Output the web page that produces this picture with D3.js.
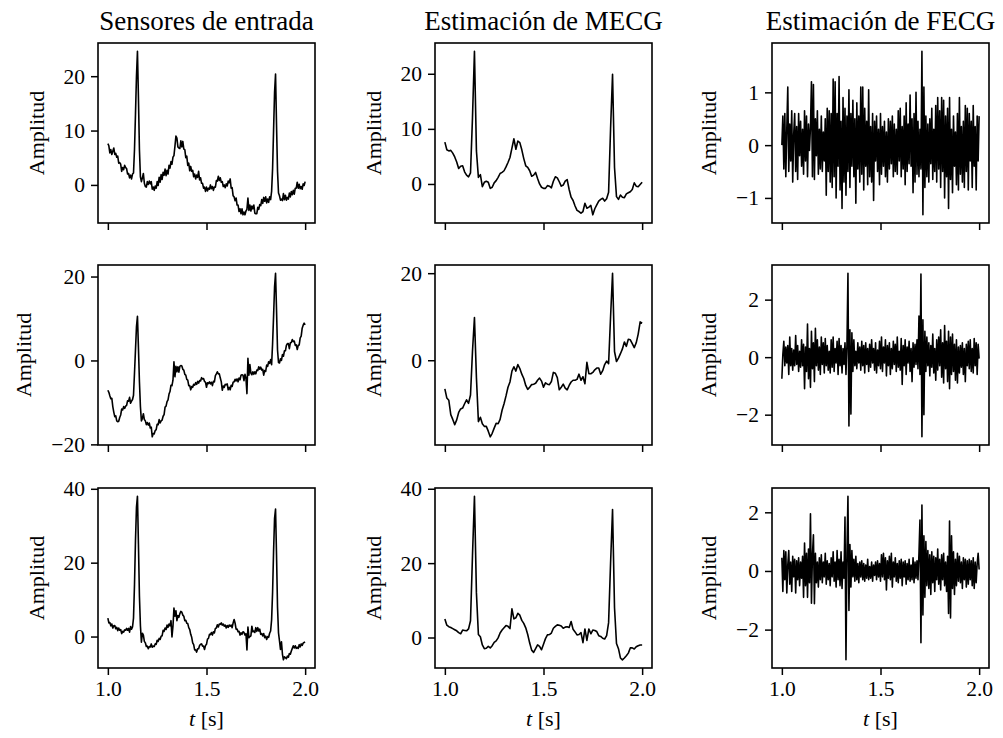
<!DOCTYPE html>
<html>
<head>
<meta charset="utf-8">
<script src="https://cdn.jsdelivr.net/npm/d3@7"></script>
<style>
  body { margin: 0; background: #fff; }
  text { font-family: "Liberation Serif", "DejaVu Serif", serif; fill: #000; }
</style>
</head>
<body>
<div class="container"></div>
<script>
var width = 1003;
var height = 738;

// panel layout (pixels)
var colLeft = [98, 435, 772];
var rowTop = [43, 265, 488];
var plotW = 217;
var plotH = 180;

var colTitles = ["Sensores de entrada", "Estimación de MECG", "Estimación de FECG"];
var xTicks = [1.0, 1.5, 2.0];

// sampling: inputs and FECG every 5 ms, MECG every 10 ms, starting at t = 1.0 s
var fineStep = 0.005;
var coarseStep = 0.01;

// ---- row 1 ----
var input1 = [7.6,7.2,5.9,6.5,5.6,6.2,6.8,5.6,5.8,5.1,
  5.3,4.0,4.1,3.8,2.5,3.2,2.8,3.6,3.2,3.0,
  2.0,2.1,1.3,1.8,1.1,2.0,2.2,6.5,13,20,
  24.6,16,6.5,1.5,0.6,1.3,2.1,0.3,-0.3,-0.4,
  0.6,0.1,0.7,0.2,0.6,-0.8,-0.4,-1.0,-0.2,-0.6,
  0.6,-0.1,1.4,0.5,1.9,1.0,2.3,1.8,2.9,1.7,
  2.7,2.0,3.6,3.1,4.3,3.8,5.1,5.4,7.1,9.0,
  8.6,7.0,6.8,6.7,8.1,7.0,8.0,6.6,6.5,5.0,
  5.3,3.6,4.0,2.6,3.4,2.5,2.7,1.5,2.0,1.1,
  1.8,1.4,2.5,0.9,1.3,0.3,0.3,-0.6,-0.4,-1.2,
  -0.4,-1.1,-0.6,-0.8,0.0,-0.7,-0.3,-1.0,-0.4,-0.4,
  0.8,0.7,1.6,0.8,1.3,0.5,0.6,-0.3,0.0,-0.5,
  0.2,-0.2,0.7,0.4,1.1,-0.6,-0.5,-2.0,-2.2,-2.9,
  -2.4,-3.7,-3.7,-4.9,-4.4,-5.3,-4.4,-5.5,-5.0,-5.5,
  -4.8,-4.5,-2.4,-4.7,-3.7,-4.8,-3.9,-4.4,-3.7,-5.2,
  -5.3,-5.3,-4.1,-4.5,-3.6,-3.8,-2.7,-3.4,-2.3,-3.0,
  -2.2,-3.3,-2.6,-3.2,-2.2,-2.7,-1.2,3,10,17,
  20.4,11,2.5,-1.5,-2.0,-2.8,-2.6,-2.9,-1.6,-2.7,
  -1.9,-2.8,-2.3,-2.6,-1.5,-2.2,-1.2,-1.8,-1.0,-1.7,
  -0.6,-0.6,0.5,-0.6,0.1,-0.7,-0.3,-0.8,0.2,-0.1,
  0.6];
var mecg1 = [7.6,6.2,6.0,6.1,5.6,4.9,4.0,2.8,3.2,3.3,
  2.2,1.6,1.3,2.0,12.0,24.1,6.0,1.2,1.7,-0.5,
  0.3,0.5,0.3,-0.8,-0.6,0.2,0.6,1.2,1.9,2.1,
  2.4,3.1,3.9,4.8,6.5,8.2,6.3,7.8,7.5,6.2,
  4.6,3.3,3.0,2.4,1.4,1.6,2.1,1.0,0.0,-0.6,
  -0.8,-0.8,-0.3,-0.4,-0.7,0.5,1.3,1.1,0.4,-0.4,
  -0.2,0.5,0.8,-1.0,-2.4,-3.0,-4.0,-4.8,-5.0,-5.3,
  -5.0,-3.5,-4.4,-4.2,-3.9,-5.6,-4.5,-3.8,-3.1,-2.8,
  -2.6,-3.1,-2.7,-1.5,10.0,19.9,3.0,-2.3,-2.8,-2.0,
  -2.4,-2.5,-1.8,-1.6,-1.4,-1.0,0.2,-0.4,-0.5,-0.1,
  0.3];
var fecg1 = [0.0,0.55,-0.45,0.6,-0.6,0.3,1.1,-0.5,0.4,-0.3,
  0.65,-0.7,0.2,0.6,-0.5,0.35,-0.65,0.6,-0.2,0.45,
  -0.4,0.3,-0.55,0.65,-0.3,0.55,-0.6,0.4,-0.1,0.35,
  1.2,-0.6,1.15,-0.65,0.5,-0.2,0.65,-0.55,0.3,-0.45,
  0.55,-0.5,0.25,-0.3,0.5,-0.95,0.7,-0.5,0.65,-0.7,
  0.6,-0.8,1.25,-0.6,1.2,-1.0,0.6,-0.4,1.3,-0.85,
  0.45,-1.2,0.9,-0.7,0.7,-0.95,0.55,-0.5,1.05,-0.8,
  0.6,-0.4,0.85,-0.6,0.5,-1.1,0.8,-0.45,0.55,-0.7,
  1.1,-0.55,1.1,-0.85,0.7,-0.4,0.45,-0.75,1.05,-0.6,
  0.35,-0.7,0.6,-1.05,0.45,-0.3,0.55,-0.5,0.3,-0.75,
  0.6,-0.55,0.35,-0.4,0.45,-0.6,0.25,-0.7,0.5,-0.45,
  0.45,-0.35,0.55,-0.6,0.4,-0.5,0.3,-0.55,0.65,-0.3,
  0.7,-0.6,0.35,-0.45,0.55,-0.75,0.8,-0.5,0.4,-0.35,
  0.95,-0.4,0.5,-0.9,0.6,-0.7,1.0,-0.55,0.45,-0.6,
  0.3,-0.45,1.78,-1.32,1.1,-0.8,0.55,-0.6,0.4,-0.7,
  0.5,-0.35,0.7,-0.65,0.3,-0.5,0.75,-0.7,0.9,-0.45,
  0.65,-0.8,0.9,-0.5,0.85,-1.0,0.55,-0.6,0.7,-1.2,
  0.9,-0.65,0.3,-0.9,0.55,-0.4,0.25,-0.75,0.6,-0.85,
  0.9,-0.55,0.35,-0.7,0.45,-0.8,0.75,-0.5,0.7,-0.85,
  0.6,-0.3,0.45,-0.8,0.75,-0.4,0.35,-0.85,0.55,-0.3,
  0.55];

// ---- row 2 ----
var input2 = [-7.1,-7.6,-8.4,-9.1,-9.0,-11.0,-12.3,-13.4,-13.2,-14.4,
  -14.6,-14.5,-13.6,-13.0,-11.6,-11.8,-11.0,-11.4,-10.9,-10.7,
  -9.6,-9.7,-8.8,-10.2,-9.7,-9.3,-8.3,-3,2.5,8,
  10.5,3,-5,-11,-14.4,-13.8,-12.7,-14.1,-14.4,-15.3,
  -14.8,-15.4,-14.9,-16.1,-15.9,-18.2,-17.4,-17.5,-16.7,-16.5,
  -15.2,-15.3,-14.1,-14.9,-14.4,-14.2,-13.3,-12.9,-11.1,-10.9,
  -9.8,-9.4,-8.0,-7.4,-5.9,-6.0,-4.7,-0.3,-3.9,-1.4,
  -2.7,-1.5,-2.8,-1.4,-1.2,-1.3,-2.1,-2.3,-3.3,-3.5,
  -4.5,-4.7,-6.0,-6.0,-7.0,-6.2,-6.4,-5.7,-5.9,-5.3,
  -5.7,-5.0,-5.4,-4.8,-4.9,-4.1,-4.4,-4.3,-5.0,-5.2,
  -6.4,-5.3,-5.5,-5.1,-5.6,-5.2,-6.0,-5.0,-5.1,-3.6,
  -3.2,-2.7,-3.2,-3.2,-4.2,-5.1,-7.1,-6.1,-6.4,-5.7,
  -5.8,-5.6,-7.0,-6.4,-7.0,-5.9,-6.2,-5.2,-5.1,-4.5,
  -4.9,-4.4,-5.1,-4.2,-4.6,-3.5,-3.4,-3.5,-4.8,-3.3,
  -4.2,-7.9,0.5,-3.5,-1.0,-3.0,-3.4,-2.7,-3.3,-2.7,
  -3.2,-2.3,-2.4,-1.5,-2.1,-1.6,-2.3,-2.1,-3.5,-2.4,
  -2.6,-1.1,-1.4,-0.3,-0.7,0.2,-1.0,4,10.5,17.5,
  20.8,12,2.5,-0.5,-0.6,0.4,0.0,1.4,1.0,2.3,
  2.3,3.6,4.0,4.0,2.8,4.2,4.3,5.0,4.5,4.6,
  3.6,3.7,2.6,3.6,3.7,5.4,5.8,7.7,8.4,8.9,
  8.5];
var mecg2 = [-6.6,-8.7,-9.2,-12.5,-13.6,-14.8,-13.7,-12.0,-11.2,-11.0,
  -10.0,-9.1,-9.9,-8.0,2.0,9.8,-4.0,-14.1,-13.1,-14.6,
  -15.2,-15.2,-16.3,-17.6,-16.8,-15.6,-14.5,-14.6,-13.6,-11.5,
  -10.0,-8.2,-6.2,-5.0,-2.5,-1.5,-2.5,-1.0,-1.9,-3.2,
  -4.2,-5.8,-6.7,-6.2,-5.6,-5.5,-5.3,-4.6,-4.1,-4.8,
  -6.2,-5.2,-5.5,-5.6,-4.9,-2.8,-3.0,-4.0,-6.8,-6.2,
  -5.5,-6.4,-6.8,-5.8,-5.0,-4.6,-4.6,-4.4,-3.2,-4.6,
  -3.8,-5.4,-0.5,-3.1,-3.1,-2.8,-2.2,-1.8,-1.8,-3.2,
  -2.4,-1.0,-0.2,-0.8,10.0,20.0,2.0,-0.3,0.5,1.5,
  2.6,4.2,3.2,4.8,4.7,3.8,2.9,4.0,6.0,8.8,
  8.5];
var fecg2 = [-0.75,0.1,0.55,-0.3,0.35,-0.2,0.4,-0.6,0.7,-0.3,
  0.3,-0.45,0.25,-0.3,0.75,-0.25,0.4,-0.5,0.2,-0.35,
  0.6,-0.3,0.45,-1.1,0.35,-0.5,1.15,-0.75,0.3,-1.05,
  0.9,-0.4,0.5,-0.85,1.0,-0.3,0.6,-0.45,0.35,-0.6,
  0.7,-0.25,0.5,-0.55,0.65,-0.3,0.4,-0.45,0.2,-0.55,
  0.6,-0.35,0.7,-0.5,0.3,-0.2,0.55,-0.6,0.65,-0.3,
  0.4,-0.55,0.3,-0.25,0.5,-0.6,0.45,2.92,-2.39,0.95,
  -1.98,0.85,-0.5,0.6,-0.3,0.2,-0.4,0.5,-0.2,0.35,
  -0.45,0.55,-0.3,0.4,-0.55,0.5,-0.25,0.3,-0.5,0.45,
  -0.35,0.6,-0.2,0.3,-0.45,0.5,-0.55,0.25,-0.3,0.55,
  -0.4,0.7,-0.5,0.35,-0.2,0.6,-0.65,0.4,-0.3,0.5,
  -0.6,0.3,-0.4,0.55,-0.25,0.45,-0.5,0.7,-0.35,0.2,
  -0.45,0.65,-0.95,0.4,-0.3,0.6,-0.6,0.35,-0.2,0.55,
  -0.5,0.3,-0.85,0.5,-0.35,0.45,-0.25,0.6,-0.4,1.43,
  -0.6,2.89,-2.77,1.3,-2.0,0.9,-0.5,0.7,-0.3,0.5,
  -0.65,0.4,-0.35,0.8,-0.55,0.3,-0.8,0.6,-0.45,0.7,
  -0.3,0.95,-0.7,0.5,-0.9,1.1,-0.4,0.55,-0.85,0.9,
  -1.1,0.7,-0.6,0.8,-0.5,0.45,-0.8,0.6,-0.9,0.35,
  -0.55,0.4,-0.35,0.5,-0.6,0.3,-0.85,0.45,-0.3,0.55,
  -0.4,0.6,-0.5,0.3,-0.55,0.65,-0.3,0.5,-0.6,0.45,
  -0.05];

// ---- row 3 ----
var input3 = [5.0,3.7,3.8,2.9,3.4,2.3,2.9,3.0,2.1,2.5,
  1.6,2.3,1.7,1.9,0.8,1.4,1.2,1.8,1.7,2.2,
  1.7,2.2,1.2,2.7,2.0,2.6,5.0,14,26,35,
  38,25,11,3,-1.5,0.9,0.4,-1.3,-1.7,-2.7,
  -2.6,-3.3,-2.7,-2.8,-2.0,-2.9,-2.6,-2.7,-2.0,-2.1,
  -1.0,-1.3,-0.5,-0.8,0.1,0.2,1.7,1.4,2.3,1.9,
  3.1,2.5,3.4,2.9,4.3,-0.1,2.8,7.7,5.5,7.0,
  4.3,5.7,5.2,6.2,6.8,6.6,5.8,5.5,4.3,4.4,
  3.6,3.5,2.4,1.9,0.6,-0.2,-1.7,-2.2,-3.6,-3.6,
  -4.2,-3.3,-3.3,-2.4,-2.1,-2.0,-2.6,-2.6,-3.5,-2.4,
  -2.1,-0.7,-0.5,0.6,0.5,1.1,0.4,1.3,1.0,2.2,
  2.3,3.2,2.6,3.4,3.3,3.7,3.1,3.4,2.8,3.1,
  2.3,3.0,2.5,3.1,2.8,3.1,2.4,3.7,4.6,3.6,
  2.0,2.0,1.3,1.4,0.4,1.0,0.6,1.3,1.1,0.4,
  0.8,-3.6,2.6,-0.3,0.0,0.2,2.8,1.3,1.5,1.1,
  2.4,1.4,2.4,1.5,2.0,0.6,0.8,0.2,0.8,-0.3,
  0.1,-0.8,0.0,-0.2,0.9,1.5,4.5,12,23,32,
  34.5,22,8,1.0,-1.2,-3.5,-1.4,-4.8,-6.3,-5.5,
  -5.7,-6.0,-5.3,-5.6,-4.6,-4.8,-3.9,-3.2,-2.5,-3.1,
  -2.5,-3.2,-2.9,-3.2,-2.2,-2.8,-2.0,-2.4,-1.8,-1.6,
  -1.5];
var mecg3 = [5.0,3.3,2.9,2.7,2.4,2.1,1.8,1.3,1.0,2.0,
  1.9,1.8,2.3,4.5,22.0,38.0,12.0,0.8,0.2,-2.0,
  -3.0,-2.9,-2.4,-2.8,-2.2,-1.3,-0.9,-0.1,1.2,2.0,
  2.6,3.2,3.0,2.4,7.7,5.0,5.3,6.5,6.0,4.6,
  3.8,2.6,0.8,-1.5,-3.4,-4.0,-3.0,-2.0,-2.4,-3.3,
  -1.8,-0.3,0.7,0.8,1.2,2.5,3.0,3.4,3.3,3.1,
  2.5,2.8,2.9,2.7,4.3,2.2,1.5,0.7,0.8,1.3,
  -1.4,2.3,-0.8,2.3,1.0,2.0,1.9,1.6,0.5,0.3,
  -0.2,-0.4,0.5,4.0,20.0,34.4,8.0,-1.6,-3.0,-5.5,
  -6.0,-5.5,-4.9,-4.2,-2.8,-2.8,-3.1,-2.5,-2.2,-2.0,
  -2.0];
var fecg3 = [0.45,-0.7,0.7,-0.3,0.65,-0.75,0.2,0.7,-0.45,0.3,
  -0.7,0.5,-0.2,0.4,-0.75,0.35,-0.3,0.45,-0.5,0.3,
  -0.25,0.5,-0.9,0.95,-0.5,0.6,-0.9,0.75,-0.4,1.95,
  -1.1,0.55,1.23,-1.12,0.6,-0.4,0.3,-0.55,0.45,-0.3,
  0.55,-0.4,0.3,-0.2,0.6,-0.45,0.35,-0.3,0.25,-0.5,
  0.45,-0.2,0.65,-0.35,0.3,-0.55,0.7,-0.3,0.4,-0.5,
  0.65,-0.6,0.3,-0.25,1.84,-3.03,0.6,2.55,-1.35,0.9,
  -0.55,0.7,-0.2,0.4,-0.35,0.5,-0.3,0.25,-0.4,0.3,
  -0.2,0.35,-0.3,0.25,-0.35,0.2,-0.25,0.4,-0.3,0.15,
  -0.25,0.3,-0.35,0.2,-0.15,0.3,-0.3,0.35,-0.2,0.25,
  -0.35,0.55,-0.2,0.6,-0.3,0.45,-0.65,0.35,-0.25,0.5,
  -0.3,0.6,-0.55,0.3,-0.2,0.45,-0.35,0.25,-0.4,0.35,
  -0.25,0.4,-0.5,0.3,-0.2,0.35,-0.45,0.25,-0.3,0.4,
  -0.35,0.2,-0.3,0.45,-0.4,0.3,-0.25,0.35,-0.3,0.6,
  1.74,-2.45,2.25,-1.5,1.2,-0.9,1.0,-0.5,0.7,-0.6,
  0.55,-0.8,0.65,-0.4,0.5,-0.7,0.45,-0.3,0.75,-0.45,
  0.4,-0.65,0.55,-0.3,0.6,-0.5,0.3,-0.7,0.5,-1.45,
  1.7,-1.6,1.2,-0.6,0.65,-0.8,0.4,-0.5,0.6,-0.35,
  0.5,-0.4,0.3,-0.6,0.45,-0.3,0.4,-0.55,0.35,-0.45,
  0.4,-0.3,0.35,-0.5,0.45,-0.6,0.3,-0.4,0.25,0.6,
  0.05];

// y tick values per panel [row][col]
var yTicks = [
  [[0, 10, 20], [0, 10, 20], [-1, 0, 1]],
  [[-20, 0, 20], [0, 20], [-2, 0, 2]],
  [[0, 20, 40], [0, 20, 40], [-2, 0, 2]]
];

var panels = [
  [{v: input1, step: fineStep}, {v: mecg1, step: coarseStep}, {v: fecg1, step: fineStep}],
  [{v: input2, step: fineStep}, {v: mecg2, step: coarseStep}, {v: fecg2, step: fineStep}],
  [{v: input3, step: fineStep}, {v: mecg3, step: coarseStep}, {v: fecg3, step: fineStep}]
];

var tickFont = 21.5;
var labelFont = 22;
var titleFont = 27;

var svg = d3.select(".container").append("svg")
  .attr("width", width)
  .attr("height", height);

svg.append("rect").attr("width", width).attr("height", height).attr("fill", "#fff");

// minus sign like matplotlib
function fmtY(d) {
  return d < 0 ? "\u2212" + Math.abs(d) : String(d);
}

function renderPanel(r, c) {
  var p = panels[r][c];
  var left = colLeft[c], top = rowTop[r];

  var xScale = d3.scaleLinear().domain([0.95, 2.05]).range([left, left + plotW]);
  // matplotlib-style 5% margin around the data
  var ext = d3.extent(p.v);
  var pad = (ext[1] - ext[0]) * 0.05;
  var yScale = d3.scaleLinear().domain([ext[0] - pad, ext[1] + pad]).range([top + plotH, top]);

  var g = svg.append("g").attr("class", "panel");

  var line = d3.line()
    .x(function(d, i) { return xScale(1 + i * p.step); })
    .y(function(d) { return yScale(d); });

  g.append("path")
    .datum(p.v)
    .attr("d", line)
    .attr("fill", "none")
    .attr("stroke", "#000")
    .attr("stroke-width", 1.6)
    .attr("stroke-linejoin", "round");

  // axes
  var xAxis = d3.axisBottom(xScale)
    .tickValues(xTicks)
    .tickSize(7)
    .tickPadding(6)
    .tickFormat(r === 2 ? d3.format(".1f") : "");
  var xg = g.append("g")
    .attr("transform", "translate(0," + (top + plotH) + ")")
    .call(xAxis);

  var yAxis = d3.axisLeft(yScale)
    .tickValues(yTicks[r][c])
    .tickSize(7)
    .tickPadding(6)
    .tickFormat(fmtY);
  var yg = g.append("g")
    .attr("transform", "translate(" + left + ",0)")
    .call(yAxis);

  [xg, yg].forEach(function(ax) {
    ax.select(".domain").remove();
    ax.selectAll(".tick line").attr("stroke", "#000").attr("stroke-width", 1.5);
    ax.selectAll(".tick text")
      .style("font-family", "'Liberation Serif', 'DejaVu Serif', serif")
      .style("font-size", tickFont + "px")
      .attr("fill", "#000");
  });

  // frame
  g.append("rect")
    .attr("x", left).attr("y", top)
    .attr("width", plotW).attr("height", plotH)
    .attr("fill", "none")
    .attr("stroke", "#000")
    .attr("stroke-width", 1.6);

  // y label placed left of the tick labels
  var bb = yg.node().getBBox();
  var labelX = left + bb.x - 20;
  g.append("text")
    .attr("transform", "translate(" + labelX + "," + (top + plotH / 2) + ") rotate(-90)")
    .attr("text-anchor", "middle")
    .style("font-size", labelFont + "px")
    .text("Amplitud");

  if (r === 0) {
    g.append("text")
      .attr("x", left + plotW / 2)
      .attr("y", top - 13)
      .attr("text-anchor", "middle")
      .style("font-size", titleFont + "px")
      .text(colTitles[c]);
  }

  if (r === 2) {
    var xl = g.append("text")
      .attr("x", left + plotW / 2)
      .attr("y", 726)
      .attr("text-anchor", "middle")
      .style("font-size", labelFont + "px");
    xl.append("tspan").style("font-style", "italic").text("t");
    xl.append("tspan").text(" [s]");
  }
}

for (var r = 0; r < 3; r++) {
  for (var c = 0; c < 3; c++) {
    renderPanel(r, c);
  }
}
</script>
</body>
</html>
